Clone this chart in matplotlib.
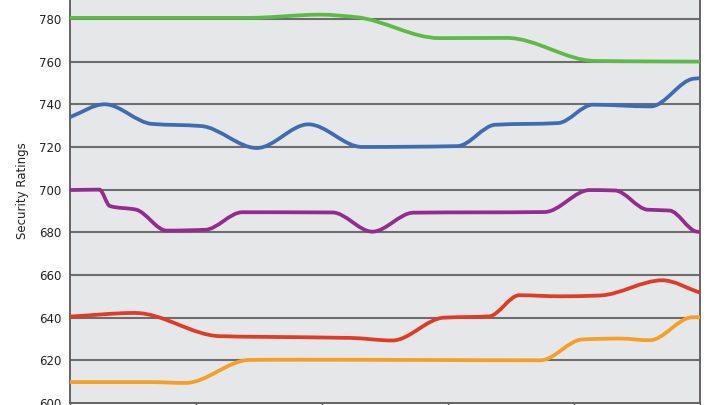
import matplotlib
matplotlib.use("Agg")
import matplotlib.pyplot as plt
import numpy as np
from matplotlib.path import Path
from matplotlib.patches import PathPatch

# ---- data (x in months, y = security rating) ----
green_x = [0, 17.1, 23.8, 27.3, 35.2, 41.6, 50.0, 55.2, 60]
green_y = [780.5, 780.5, 782, 780.8, 771, 771.1, 760.3, 760.1, 760]

blue_x = [0, 3.3, 7.8, 12.5, 17.8, 22.7, 27.8, 36.9, 40.5, 46.5, 49.8, 55.3, 59.4, 60]
blue_y = [734, 740, 730.8, 729.8, 719.5, 730.6, 720, 720.4, 730.4, 731.2, 739.8, 739.0, 752, 752.2]

purple_x = [0, 2.8, 3.8, 6.3, 9.2, 12.9, 16.4, 25.0, 28.8, 32.7, 45.2, 49.5, 51.9, 55.0,
            57.1, 59.7, 60]
purple_y = [699.8, 700, 692.3, 690.6, 680.8, 681.2, 689.4, 689.3, 680.3, 689.2, 689.5,
            699.8, 699.6, 690.6, 690.2, 680.3, 680.2]

red_x = [0, 6.2, 14.3, 18.1, 26.7, 30.7, 35.6, 39.9, 42.8, 46.7, 50.5, 56.4, 60]
red_y = [640.5, 642.2, 631.3, 631, 630.5, 629.3, 640, 640.6, 650.5, 650, 650.4, 657.5, 651.7]

orange_x = [0, 7.6, 11.0, 17.1, 21.9, 31.4, 44.8, 48.8, 52.4, 55.2, 59.3, 60]
orange_y = [609.8, 609.8, 609.4, 620.2, 620.3, 620.2, 620, 629.8, 630.2, 629.4, 640.2, 640.2]

y_ticks = [600, 620, 640, 660, 680, 700, 720, 740, 760, 780]
x_ticks = [0, 12, 24, 36, 48, 60]

series = [
    (green_x, green_y, "#5cba47"),
    (blue_x, blue_y, "#3d6cb5"),
    (purple_x, purple_y, "#952a8f"),
    (red_x, red_y, "#e03b26"),
    (orange_x, orange_y, "#f79e25"),
]


def smooth_path(x, y):
    """Monotone (PCHIP-style) cubic Bezier path through the read points."""
    x = np.asarray(x, float)
    y = np.asarray(y, float)
    n = len(x)
    h = np.diff(x)
    d = np.diff(y) / h
    m = np.zeros(n)
    m[0] = d[0]
    m[-1] = d[-1]
    for k in range(1, n - 1):
        if d[k - 1] * d[k] <= 0:
            m[k] = 0.0
        else:
            w1 = 2 * h[k] + h[k - 1]
            w2 = h[k] + 2 * h[k - 1]
            m[k] = (w1 + w2) / (w1 / d[k - 1] + w2 / d[k])
    verts = [(x[0], y[0])]
    codes = [Path.MOVETO]
    for k in range(n - 1):
        verts += [(x[k] + h[k] / 3, y[k] + m[k] * h[k] / 3),
                  (x[k + 1] - h[k] / 3, y[k + 1] - m[k + 1] * h[k] / 3),
                  (x[k + 1], y[k + 1])]
        codes += [Path.CURVE4] * 3
    return Path(verts, codes)


fig = plt.figure(figsize=(7.2, 4.05), dpi=100)
fig.patch.set_facecolor("white")
ax = fig.add_axes([70 / 720, 2 / 405, 630 / 720, 1.0010])
ax.set_facecolor("#e6e7e9")
ax.set_xlim(0, 60)
ax.set_ylim(600, 790)

for v in y_ticks[1:]:
    ax.axhline(v, color="#6d6d6d", lw=1.5, zorder=1)

for xs, ys, c in series:
    ax.add_patch(PathPatch(smooth_path(xs, ys), fill=False, edgecolor=c,
                           lw=2.7, capstyle="round", joinstyle="round", zorder=3))

ax.set_yticks(y_ticks)
ax.set_yticklabels([str(v) for v in y_ticks], fontsize=8.5, color="#222222",
                   family="DejaVu Sans")
ax.set_xticks(x_ticks)
ax.set_xticklabels([])
ax.tick_params(axis="y", length=0, pad=6)
ax.tick_params(axis="x", length=3, width=1, color="#555555", direction="out")

for s in ["left", "right", "bottom"]:
    ax.spines[s].set_color("#5a5a5a")
    ax.spines[s].set_linewidth(1.3)
ax.spines["top"].set_visible(False)

fig.text(23 / 720, 1 - 191 / 405, "Security Ratings", rotation=90, ha="center",
         va="center", fontsize=8.5, color="#222222", family="DejaVu Sans")

fig.savefig("out.png", dpi=100)
